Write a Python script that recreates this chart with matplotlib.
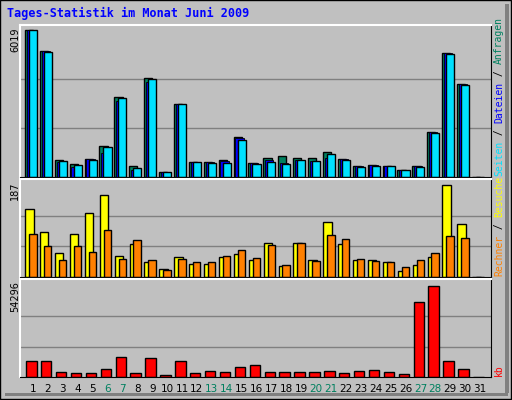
import matplotlib.pyplot as plt
from matplotlib.patches import Rectangle
import numpy as np

days = list(range(1, 32))
weekends = [6, 7, 13, 14, 20, 21, 27, 28]

hits = [6019, 5162, 708, 545, 749, 1280, 3282, 436, 4072, 218, 2996, 626, 626, 708, 1648, 585,
        790, 844, 790, 790, 1035, 749, 463, 504, 463, 300, 463, 1852, 5080, 3813, 0]
files = [6000, 5140, 600, 420, 720, 1000, 3100, 300, 3880, 218, 2996, 626, 600, 650, 1600, 560,
         680, 560, 680, 640, 780, 720, 440, 480, 463, 300, 440, 1830, 5060, 3790, 0]
pages = [6019, 5121, 667, 504, 708, 1239, 3241, 381, 4017, 218, 2996, 626, 585, 585, 1525, 545,
         626, 545, 708, 667, 953, 708, 422, 463, 463, 300, 422, 1811, 5039, 3772, 0]
visits = [138, 92, 49, 88, 130, 167, 42, 68, 31, 17, 40, 27, 27, 40, 47, 35,
          70, 23, 70, 35, 112, 68, 35, 35, 31, 13, 25, 40, 187, 108, 0]
sites = [88, 62, 35, 63, 51, 96, 37, 76, 35, 15, 37, 31, 31, 43, 55, 39,
         65, 25, 70, 33, 86, 78, 37, 33, 31, 21, 35, 49, 84, 80, 0]
kbytes = [9710, 9710, 3170, 2576, 2576, 4954, 12088, 2576, 11493, 1190, 9710, 2576, 3765, 3170, 6143, 7332,
          3170, 3170, 3170, 3170, 3765, 2576, 3765, 4360, 3170, 1982, 44784, 54296, 9710, 4954, 0]

BG = '#C0C0C0'
GREEN = '#00805F'
CYAN = '#00E0FF'
BLUE = '#0000FF'
W, H = 512, 400
XL = (0.128, 31.74)

fig = plt.figure(figsize=(W / 100, H / 100), dpi=100, facecolor=BG)
mono = 'DejaVu Sans Mono'


def fx(x): return x / W
def fy(y): return 1 - y / H


# outer frame with shadow
fig.patches.append(Rectangle((fx(0), fy(399)), fx(511), 399 / H, transform=fig.transFigure,
                             fill=False, ec='black', lw=1))
fig.patches.append(Rectangle((fx(505), fy(393)), fx(4), 389 / H, transform=fig.transFigure,
                             fc='#808080', ec='none'))
fig.patches.append(Rectangle((fx(5), fy(396)), fx(503), 3 / H, transform=fig.transFigure,
                             fc='#808080', ec='none'))


def panel(y0, y1):
    ax = fig.add_axes([fx(20), fy(y1), fx(491 - 20), (y1 - y0) / H])
    ax.set_facecolor(BG)
    ax.set_xlim(*XL)
    ax.set_xticks([])
    ax.set_yticks([])
    for s in ax.spines.values():
        s.set_color('black')
    ax.spines['top'].set_color('white')
    ax.spines['left'].set_color('white')
    ax.spines['top'].set_linewidth(1.5)
    ax.spines['left'].set_linewidth(1.5)
    return ax


x = np.array(days)

ax1 = panel(25, 177)
m1 = max(hits)
ax1.set_ylim(0, m1 * 152 / 147)
for g in (m1 / 3, 2 * m1 / 3):
    ax1.axhline(g, color='#808080', lw=1, zorder=0)
ax1.bar(x - 0.54, hits, width=0.55, color=GREEN, ec='black', lw=1, align='edge')
ax1.bar(x - 0.42, files, width=0.55, color=BLUE, ec='black', lw=0.6, align='edge')
ax1.bar(x - 0.27, pages, width=0.54, color=CYAN, ec='black', lw=1, align='edge')

ax2 = panel(179, 277)
m2 = max(visits)
ax2.set_ylim(0, m2 * 98 / 92)
for g in (m2 / 3, 2 * m2 / 3):
    ax2.axhline(g, color='#808080', lw=1, zorder=0)
ax2.bar(x - 0.52, visits, width=0.56, color='#FFFF00', ec='black', lw=1, align='edge')
ax2.bar(x - 0.26, sites, width=0.5, color='#FF8000', ec='black', lw=1, align='edge')

ax3 = panel(279, 377)
m3 = max(kbytes)
ax3.set_ylim(0, m3 * 98 / 91)
for g in (m3 / 3, 2 * m3 / 3):
    ax3.axhline(g, color='#808080', lw=1, zorder=0)
ax3.bar(x - 0.46, kbytes, width=0.7, color='#FF0000', ec='black', lw=1, align='edge')

# day labels
for d in days:
    xp = ax3.transData.transform((d, 0))[0]
    fig.text(xp / W, fy(389), str(d), ha='center', va='center', fontsize=7.5,
             color=GREEN if d in weekends else 'black', family='DejaVu Sans')

fig.text(fx(7), fy(13), 'Tages-Statistik im Monat Juni 2009', fontsize=8.5, color=BLUE,
         family=mono, weight='bold', va='center')

# y max labels
for txt, ytop in (('6019', 27), ('187', 181), ('54296', 281)):
    fig.text(fx(15), fy(ytop), txt, rotation=90, ha='center', va='top', fontsize=7,
             family='DejaVu Sans')

# right vertical multicolor labels
fig.canvas.draw()
renderer = fig.canvas.get_renderer()


def vlabel(parts, ybottom):
    y = ybottom
    for s, c in parts:
        t = fig.text(fx(499), fy(y), s, rotation=90, ha='center', va='bottom', fontsize=7,
                     color=c, family=mono)
        bb = t.get_window_extent(renderer)
        y -= bb.height


vlabel([('Seiten', CYAN), (' / ', 'black'), ('Dateien', BLUE), (' / ', 'black'), ('Anfragen', GREEN)], 176)
vlabel([('Rechner', '#FF8000'), (' / ', 'black'), ('Besuche', '#FFFF00')], 276)
vlabel([('kb', '#FF0000')], 376)

fig.savefig('out.png', dpi=100, facecolor=BG)
